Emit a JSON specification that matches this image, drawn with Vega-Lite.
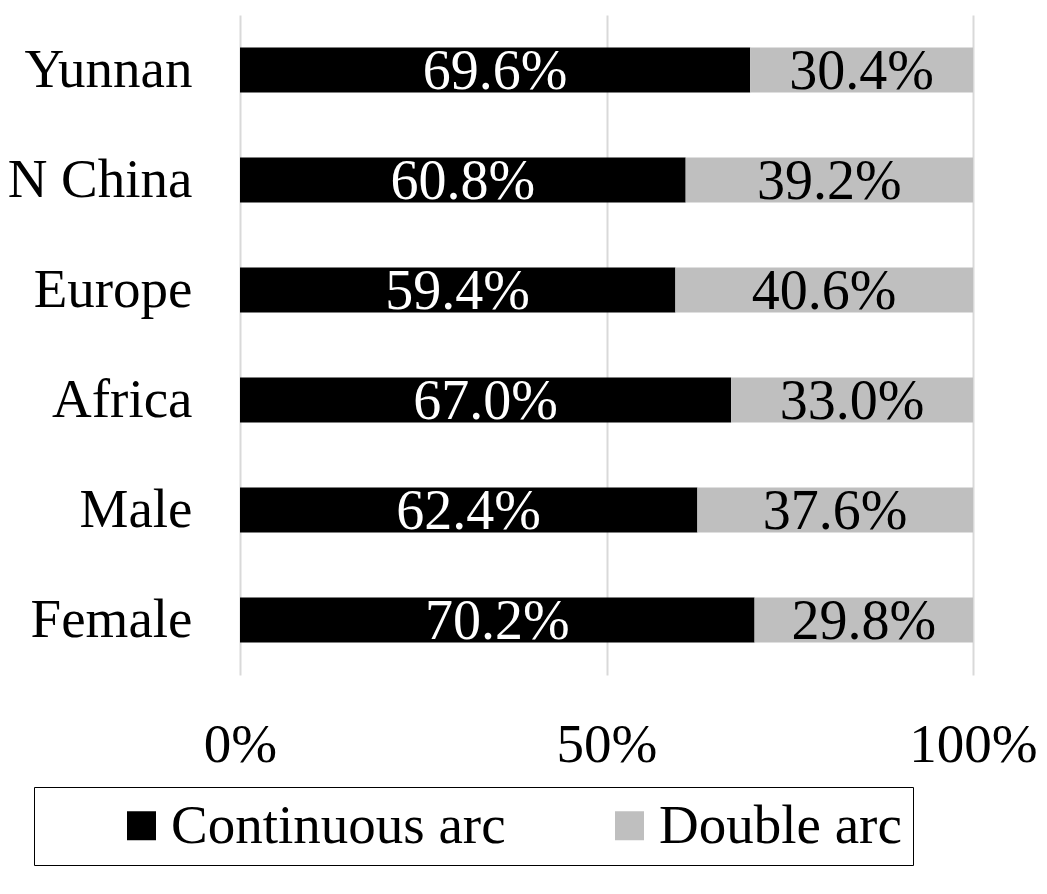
{
  "$schema": "https://vega.github.io/schema/vega-lite/v6.json",
  "width": 733,
  "height": 660,
  "autosize": "none",
  "padding": {"left": 240, "top": 15, "right": 74, "bottom": 219},
  "background": "white",
  "config": {"view": {"stroke": null}, "font": "Liberation Serif"},
  "data": {"values": [
    {"region": "Yunnan", "type": "Continuous arc", "value": 0.696},
    {"region": "Yunnan", "type": "Double arc", "value": 0.304},
    {"region": "N China", "type": "Continuous arc", "value": 0.608},
    {"region": "N China", "type": "Double arc", "value": 0.392},
    {"region": "Europe", "type": "Continuous arc", "value": 0.594},
    {"region": "Europe", "type": "Double arc", "value": 0.406},
    {"region": "Africa", "type": "Continuous arc", "value": 0.670},
    {"region": "Africa", "type": "Double arc", "value": 0.330},
    {"region": "Male", "type": "Continuous arc", "value": 0.624},
    {"region": "Male", "type": "Double arc", "value": 0.376},
    {"region": "Female", "type": "Continuous arc", "value": 0.702},
    {"region": "Female", "type": "Double arc", "value": 0.298}
  ]},
  "encoding": {
    "y": {
      "field": "region", "type": "nominal", "sort": null,
      "scale": {"paddingInner": 0.59, "paddingOuter": 0.295},
      "axis": {"title": null, "labelFontSize": 55, "labelColor": "black", "ticks": false, "domain": false, "labelPadding": 48, "labelLimit": 0, "labelFont": "Liberation Serif"}
    }
  },
  "layer": [
    {
      "mark": {"type": "bar"},
      "encoding": {
        "x": {
          "field": "value", "type": "quantitative", "stack": "zero",
          "scale": {"domain": [0, 1], "nice": false},
          "axis": {"title": null, "values": [0, 0.5, 1], "format": "%", "labelFontSize": 55, "labelColor": "black", "labelFont": "Liberation Serif", "ticks": false, "domain": false, "labelPadding": 43, "grid": true, "gridColor": "#d9d9d9", "gridWidth": 2, "labelFlush": false}
        },
        "color": {
          "field": "type", "type": "nominal",
          "scale": {"domain": ["Continuous arc", "Double arc"], "range": ["#000000", "#bfbfbf"]},
          "legend": {
            "orient": "none", "legendX": -206, "legendY": 772,
            "direction": "horizontal", "columns": 2, "gridAlign": "all",
            "title": "_", "titleOrient": "left", "titleFontSize": 2, "titleColor": "white", "titlePadding": 68,
            "symbolType": "square", "symbolSize": 841, "symbolStrokeWidth": 0,
            "labelFontSize": 55, "labelColor": "black", "labelFont": "Liberation Serif", "labelLimit": 0, "labelOffset": 2,
            "columnPadding": 96, "padding": 11,
            "strokeColor": "black"
          }
        }
      }
    },
    {
      "transform": [
        {"stack": "value", "groupby": ["region"], "sort": [{"field": "type", "order": "ascending"}], "as": ["v0", "v1"]},
        {"calculate": "(datum.v0 + datum.v1) / 2", "as": "mid"}
      ],
      "mark": {"type": "text", "fontSize": 56, "baseline": "middle", "align": "center", "font": "Liberation Serif", "dy": 2},
      "encoding": {
        "x": {"field": "mid", "type": "quantitative"},
        "text": {"field": "value", "type": "quantitative", "format": ".1%"},
        "color": {"condition": {"test": "datum.type == 'Continuous arc'", "value": "white"}, "value": "black"}
      }
    }
  ]
}
